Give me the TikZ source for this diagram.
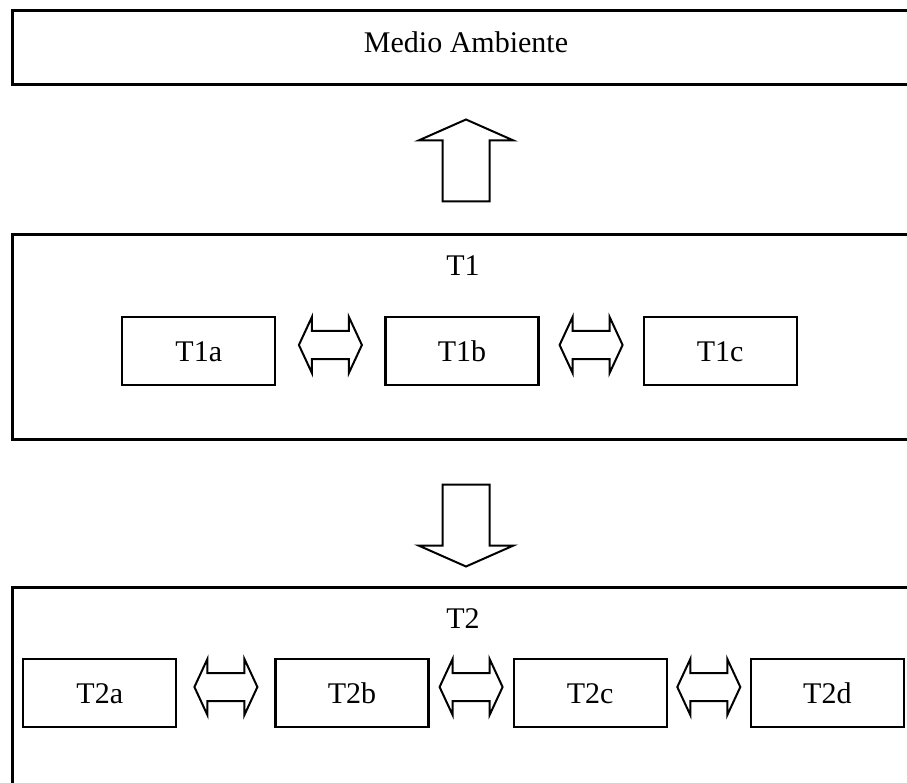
\documentclass[tikz,border=0pt]{standalone}
\usepackage{fontspec}
\setmainfont{Liberation Serif}
\usetikzlibrary{positioning,calc}
\tikzset{layer node/.style={draw,line width=3pt,minimum width=908pt,inner sep=0pt},
  task node/.style={draw,line width=2.2pt,minimum width=153pt,minimum height=68pt,inner sep=0pt,
    text height=20pt,text depth=0pt},
  fat arrow/.pic={\draw[line width=2pt]
    (-23.5,0) -- (-23.5,-61) -- (-47.5,-61) -- (0,-82) -- (47.5,-61) -- (23.5,-61) -- (23.5,0) -- cycle;},
  swap arrow/.pic={\draw[line width=2pt]
    (-31.5,0) -- (-18.5,-28) -- (-18.5,-14) -- (18.5,-14) -- (18.5,-28) -- (31.5,0)
    -- (18.5,28) -- (18.5,14) -- (-18.5,14) -- (-18.5,28) -- cycle;}}

\begin{document}
\begin{tikzpicture}[x=1pt,y=-1pt,font=\fontsize{30}{34}\selectfont]
            \useasboundingbox (0,0) rectangle (907,783);
            \clip (0,0) rectangle (907,783);

            % layers
            \node[layer node, minimum height=74pt] (env) at (466,48) {};
            \node (envlabel) at (466,42) {Medio Ambiente};
            \node[layer node, minimum height=204pt] (T1) at (466,337) {};
            \node (T1label) at (463,266) {T1};
            \node[layer node, minimum height=300pt] (T2) at (466,737) {};
            \node (T2label) at (463,619) {T2};

            % tasks of T1
            \node[task node] (T1b) at (462,351) {T1b};
            \node[task node] (T1a) [left = 108pt of T1b] {T1a};
            \node[task node] (T1c) [right = 103pt of T1b] {T1c};

            % tasks of T2
            \node[task node] (T2b) at (352,693) {T2b};
            \node[task node] (T2a) [left = 97pt of T2b] {T2a};
            \node[task node] (T2c) [right = 83pt of T2b] {T2c};
            \node[task node] (T2d) [right = 82pt of T2c] {T2d};

            \pic at ($(T1.north)+(0,-32)$) {fat arrow};
            \pic[rotate=180] at ($(T1.south)+(0,44)$) {fat arrow};

            \pic at ($(T1a.east)!0.5!(T1b.west)+(0,-6)$) {swap arrow};
            \pic at ($(T1b.east)!0.5!(T1c.west)+(0,-6)$) {swap arrow};
            \pic at ($(T2a.east)!0.5!(T2b.west)+(0,-6)$) {swap arrow};
            \pic at ($(T2b.east)!0.5!(T2c.west)+(0,-6)$) {swap arrow};
            \pic at ($(T2c.east)!0.5!(T2d.west)+(0,-6)$) {swap arrow};
        \end{tikzpicture}
\end{document}
